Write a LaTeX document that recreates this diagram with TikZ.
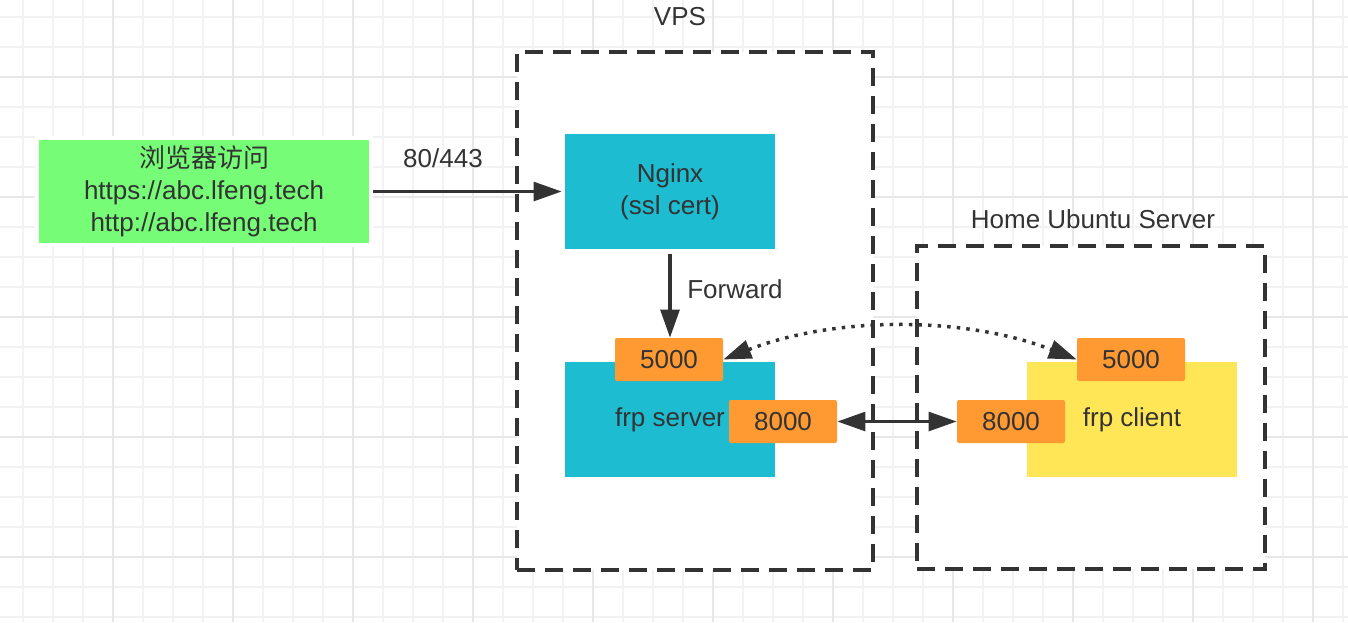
\documentclass[tikz,border=0pt]{standalone}
\usepackage{fontspec}
\setmainfont{Liberation Sans}
\newfontfamily\cjk{Noto Sans CJK SC}
\usetikzlibrary{arrows.meta}

\definecolor{inkgray}{HTML}{333333}
\definecolor{gridminor}{HTML}{F2F2F2}
\definecolor{gridmajor}{HTML}{E8E8E8}
\definecolor{frpteal}{HTML}{1DBCD0}
\definecolor{frpyellow}{HTML}{FFE657}
\definecolor{portorange}{HTML}{FF9A33}
\definecolor{webgreen}{HTML}{77FC77}

\tikzset{
  frp/.style={
    x=0.75pt, y=-0.75pt,
    >={Triangle[length=21pt,width=14pt]},
    every node/.style={font=\fontsize{19.5}{24}\selectfont,text=inkgray,inner sep=0pt},
    box/.style={
        minimum width=157.5pt,
        minimum height=86.25pt,
        align=center,
    },
    port/.style={
        fill=portorange,
        rounded corners=1.5pt,
        minimum width=81pt,
        minimum height=32.25pt,
    },
    browser/.style={
        fill=webgreen,
        draw=white,
        line width=3pt,
        minimum width=250.5pt,
        minimum height=80.25pt,
        align=center,
    },
    group/.style={
        draw=inkgray,
        fill=white,
        line width=2.6pt,
        dash pattern=on 13.5pt off 7.5pt,
    },
    minor/.style={draw=gridminor,line width=1.1pt},
    major/.style={draw=gridmajor,line width=1.2pt},
    link/.style={draw=inkgray,line width=2.7pt},
    tunnel/.style={link,line width=2.6pt,dash pattern=on 2.6pt off 4.6pt}
  }
}

\begin{document}
\begin{tikzpicture}[frp]
        \useasboundingbox[fill=white] (0,0) rectangle (1348,622);
        \foreach \x in {23,53,...,1343} \draw[minor] (\x,0) -- (\x,622);
        \foreach \y in {17,47,...,617} \draw[minor] (0,\y) -- (1348,\y);
        \foreach \x in {113,233,...,1313} \draw[major] (\x,0) -- (\x,622);
        \foreach \y in {77,197,...,557} \draw[major] (0,\y) -- (1348,\y);

        \node[group, minimum width=267pt, minimum height=388.5pt] (vps) at (695,311) {};
        \node[group, minimum width=261pt, minimum height=242.25pt] (home) at (1091,407.5) {};
        \node (vpslabel) at (680,17) {VPS};
        \node (homelabel) at (1093,219) {Home Ubuntu Server};

        \node[browser] (browser) at (204,191.5)
            {{\cjk 浏览器访问}\\https://abc.lfeng.tech\\http://abc.lfeng.tech};
        \node[box, fill=frpteal] (nginx) at (670,191.5) {Nginx\\(ssl cert)};
        \node[box, fill=frpteal] (frps) at (670,419.5) {frp server};
        \node[box, fill=frpyellow] (frpc) at (1132,419.5) {frp client};
        \node[port] (frps5000) at (669,359.5) {5000};
        \node[port] (frps8000) at (783,421.5) {8000};
        \node[port] (frpc5000) at (1131,359.5) {5000};
        \node[port] (frpc8000) at (1011,421.5) {8000};

        \draw[link, ->, shorten >=2.25pt] (browser) -- (nginx);
        \node (https) at (443,158) {80/443};
        \draw[link, ->, shorten <=3.75pt] (nginx.south) -- (nginx.south |- frps5000.north);
        \node (forward) at (735,289) {Forward};
        \draw[link, <->] (frps8000) -- (frpc8000);
        \draw[tunnel, <->] (frps5000.east) .. controls (835,316) and (965,316) .. (frpc5000.west);
\end{tikzpicture}
\end{document}
